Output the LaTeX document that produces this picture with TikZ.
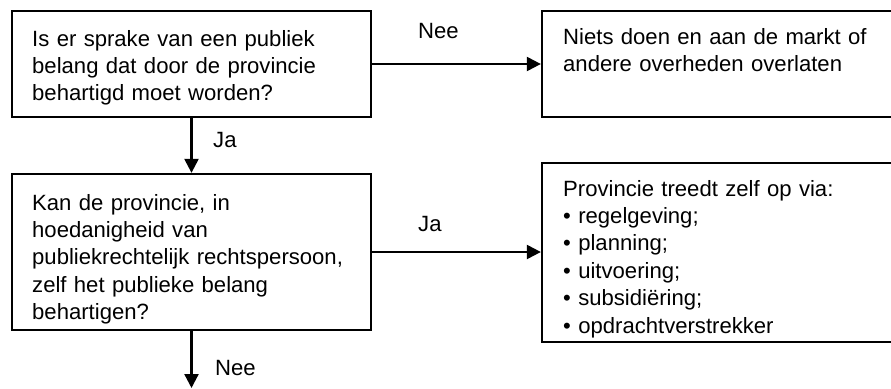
\documentclass[tikz,border=0pt]{standalone}
\usepackage{fontspec}
\setmainfont{Liberation Sans}
\usetikzlibrary{arrows.meta}
\begin{document}
\begin{tikzpicture}[x=1pt,y=-1pt,
  box/.style={draw=black,line width=2.3pt,rectangle,inner sep=0pt},
  txt/.style={anchor=base west,inner sep=0pt,text width=340pt,align=left,font=\fontsize{22.1}{27.4}\selectfont},
  lbl/.style={anchor=base west,inner sep=0pt,font=\fontsize{22.1}{27.4}\selectfont},
  conn/.style={line width=2.3pt,-{Triangle[length=14pt,width=14pt]}}]
\useasboundingbox (0,0) rectangle (891,388);
\clip (0,0) rectangle (891,388);
\node[box,minimum width=359pt,minimum height=106pt] (b1) at (191.5,64) {};
\node[box,minimum width=370pt,minimum height=106pt] (b2) at (727,64) {};
\node[box,minimum width=359pt,minimum height=156pt] (b3) at (191.5,252) {};
\node[box,minimum width=370pt,minimum height=179pt] (b4) at (727,252.5) {};
\node[txt] (t1) at (32,46) {Is er sprake van een publiek\\belang dat door de provincie\\behartigd moet worden?};
\node[txt] (t2) at (563,44) {Niets doen en aan de markt of\\andere overheden overlaten};
\node[txt] (t3) at (32,210) {Kan de provincie, in\\hoedanigheid van\\publiekrechtelijk rechtspersoon,\\zelf het publieke belang\\behartigen?};
\node[txt] (t4) at (563,196) {Provincie treedt zelf op via:\\\textbullet{} regelgeving;\\\textbullet{} planning;\\\textbullet{} uitvoering;\\\textbullet{} subsidiëring;\\\textbullet{} opdrachtverstrekker};
\coordinate (end) at (191.5,388);
\draw[conn] (b1.east) -- (b2.west);
\draw[conn] (b1.south) -- (b3.north);
\draw[conn] (b3.east) -- (b3.east -| b4.west);
\draw[conn] (b3.south) -- (end);
\node[lbl] (l1) at (418,38) {Nee};
\node[lbl] (l2) at (213,147) {Ja};
\node[lbl] (l3) at (418,231) {Ja};
\node[lbl] (l4) at (215,375) {Nee};
\end{tikzpicture}
\end{document}
